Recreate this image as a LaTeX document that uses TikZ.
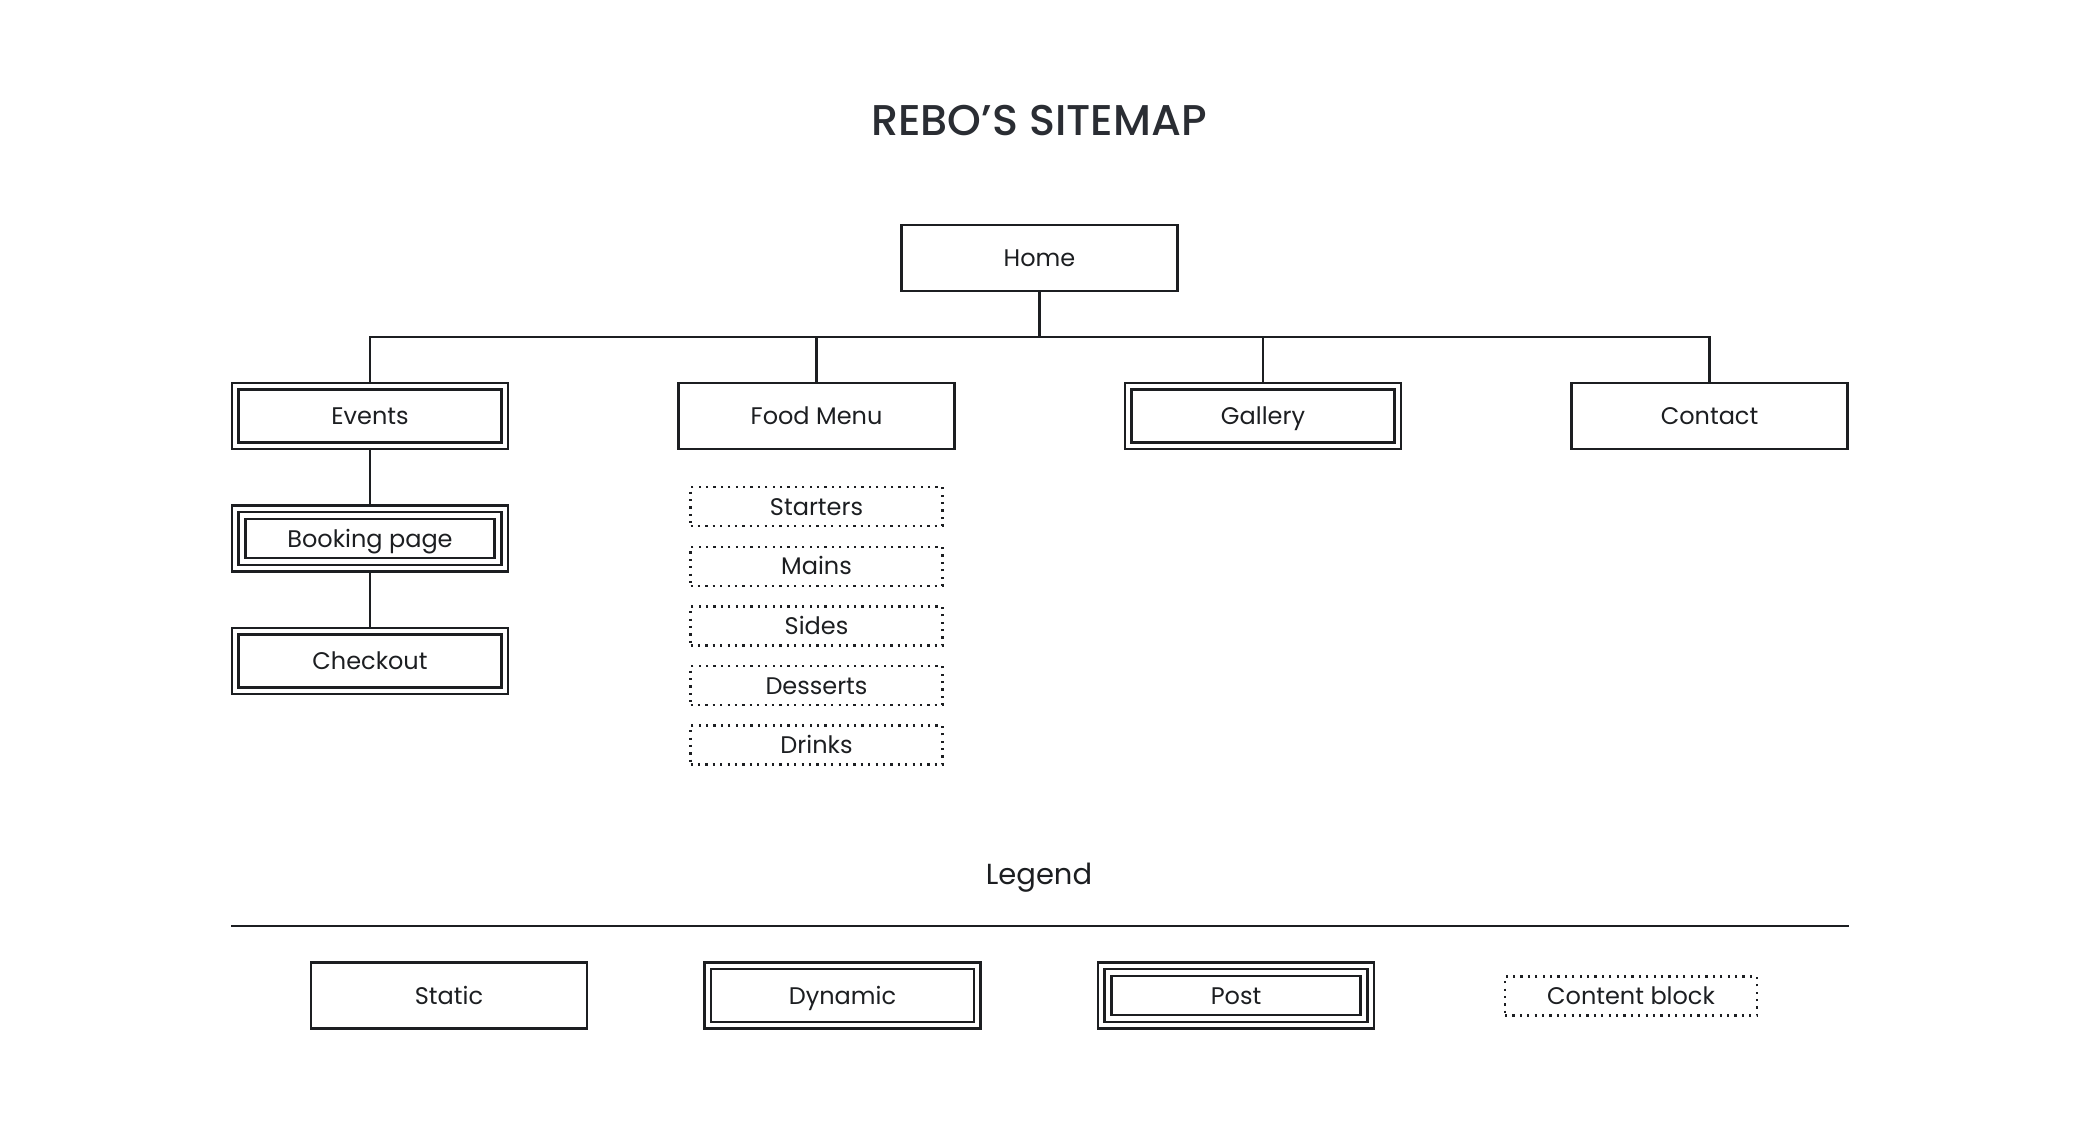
\documentclass[tikz,border=0pt]{standalone}
\usepackage{fontspec}
\setmainfont{Poppins}
\newfontfamily\titlefont{Poppins Medium}
\definecolor{ink}{HTML}{1C1E21}
\definecolor{titleink}{HTML}{2A2D33}
\begin{document}
\begin{tikzpicture}[x=0.5pt,y=-0.5pt,
  every node/.style={font=\fontsize{12}{14}\selectfont, text=ink},
  page/.style={draw=ink, line width=1.3pt, minimum width=138pt, minimum height=33pt, inner sep=0pt,
      text height=10pt, text depth=1.5pt},
  dynpage/.style={page, path picture={\draw[ink, line width=1.3pt]
      ([shift={(6.6,6.6)}]path picture bounding box.north west) rectangle
      ([shift={(-6.6,-6.6)}]path picture bounding box.south east);}},
  postpage/.style={page, path picture={\draw[ink, line width=1.3pt]
      ([shift={(6.6,6.6)}]path picture bounding box.north west) rectangle
      ([shift={(-6.6,-6.6)}]path picture bounding box.south east);
      \draw[ink, line width=1.3pt]
      ([shift={(13.4,13.4)}]path picture bounding box.north west) rectangle
      ([shift={(-13.4,-13.4)}]path picture bounding box.south east);}},
  block/.style={draw=ink, line width=1.1pt, dash pattern=on 1.1pt off 2.6pt,
      minimum width=126pt, minimum height=19.5pt, inner sep=0pt,
      text height=10pt, text depth=1.5pt},
  link/.style={draw=ink, line width=1.3pt}
]
\useasboundingbox (0,0) rectangle (2080,1121);

\node[font=\titlefont\fontsize{21.5}{24}\selectfont, text=titleink] (title) at (1039,121) {REBO’S SITEMAP};

\node[page] (home) at (1039.5,258) {Home};
\node[dynpage] (events) at (370,416) {Events};
\node[page] (food) at (816.5,416) {Food Menu};
\node[dynpage] (gallery) at (1263,416) {Gallery};
\node[page] (contact) at (1709.5,416) {Contact};
\node[postpage] (booking) at (370,538.5) {Booking page};
\node[dynpage] (checkout) at (370,661) {Checkout};

\node[block] (starters) at (816.5,506.5) {Starters};
\node[block] (mains) at (816.5,566.3) {Mains};
\node[block] (sides) at (816.5,626) {Sides};
\node[block] (desserts) at (816.5,685.5) {Desserts};
\node[block] (drinks) at (816.5,745) {Drinks};

\coordinate (bus) at (1039.5,337);
\draw[link] (home.south) -- (bus);
\foreach \c in {events,food,gallery,contact}
  \draw[link] (bus) -| (\c.north);
\draw[link] (events.south) -- (booking.north);
\draw[link] (booking.south) -- (checkout.north);

\node[font=\fontsize{14.5}{17}\selectfont] (legend) at (1039,878) {Legend};
\coordinate (ruleL) at (231,926);
\coordinate (ruleR) at (1849,926);
\draw[link] (ruleL) -- (ruleR);

\node[page] (lstatic) at (449,995.5) {Static};
\node[dynpage] (ldynamic) at (842.5,995.5) {Dynamic};
\node[postpage] (lpost) at (1236,995.5) {Post};
\node[block] (lblock) at (1631,996) {Content block};
\end{tikzpicture}
\end{document}
